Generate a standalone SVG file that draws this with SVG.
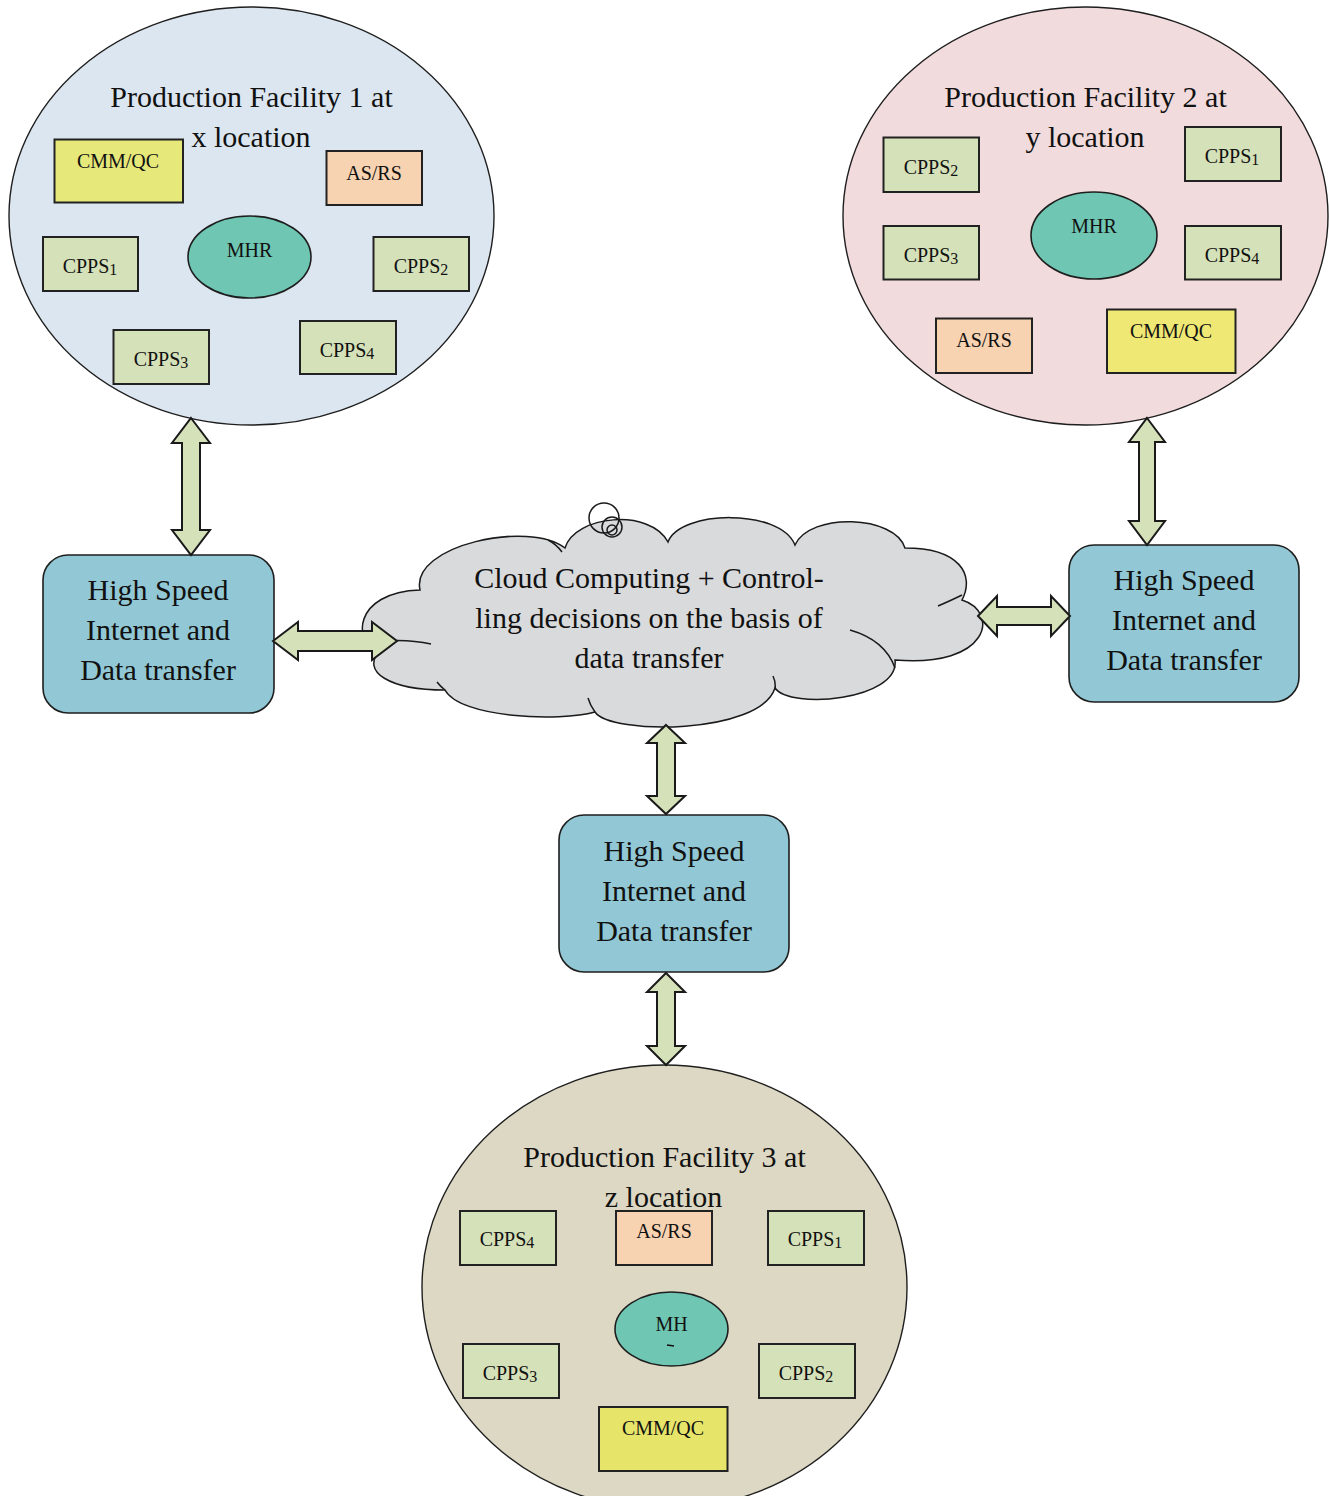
<svg xmlns="http://www.w3.org/2000/svg" width="1330" height="1496" viewBox="0 0 1330 1496">
<style>
.bg{fill:#ffffff}
.fac{stroke:#1e1e1e;stroke-width:1.4}
.f1{fill:#dce6f0}
.f2{fill:#f2dbdc}
.f3{fill:#ddd8c3}
.cpps{fill:#d5e1b9;stroke:#222;stroke-width:2}
.cmm{stroke:#222;stroke-width:2}
.asrs{fill:#f8d3b1;stroke:#222;stroke-width:2}
.mhr{fill:#6fc7b3;stroke:#1e1e1e;stroke-width:1.6}
.box{fill:#92c8d5;stroke:#1e1e1e;stroke-width:1.6}
.cloud{fill:#d9dadc;stroke:#1a1a1a;stroke-width:1.5}
.cl{fill:none;stroke:#1a1a1a;stroke-width:1.5}
.arr{fill:#d5e1b9;stroke:#1a1a1a;stroke-width:2;stroke-linejoin:miter}
.big{font-family:"Liberation Serif","Times New Roman",serif;font-size:30px;fill:#111;text-anchor:middle}
.sm{font-family:"Liberation Serif","Times New Roman",serif;font-size:20px;fill:#111;text-anchor:middle}
.sub{font-size:16px}
</style>
<rect class="bg" x="0" y="0" width="1330" height="1496"/>

<g id="facility1">
<ellipse class="fac f1" cx="251.5" cy="216" rx="242.5" ry="209"/>
<text class="big" x="251.5" y="107">Production Facility 1 at</text>
<text class="big" x="251" y="147">x location</text>
<rect class="cmm" fill="#e6e87a" x="54.5" y="139.5" width="128.5" height="63"/>
<text class="sm" x="118" y="168">CMM/QC</text>
<rect class="asrs" x="326.5" y="151" width="95.5" height="54"/>
<text class="sm" x="374" y="180">AS/RS</text>
<ellipse class="mhr" cx="249.5" cy="257" rx="61.5" ry="41"/>
<text class="sm" x="249.5" y="257">MHR</text>
<rect class="cpps" x="43" y="237" width="95" height="54"/>
<text class="sm" x="90" y="273">CPPS<tspan class="sub" dy="2">1</tspan></text>
<rect class="cpps" x="373.5" y="237" width="95.5" height="54"/>
<text class="sm" x="421" y="273">CPPS<tspan class="sub" dy="2">2</tspan></text>
<rect class="cpps" x="113.5" y="330" width="95.5" height="54"/>
<text class="sm" x="161" y="366">CPPS<tspan class="sub" dy="2">3</tspan></text>
<rect class="cpps" x="300" y="321" width="96" height="53"/>
<text class="sm" x="347" y="357">CPPS<tspan class="sub" dy="2">4</tspan></text>
</g>

<g id="facility2">
<ellipse class="fac f2" cx="1085.5" cy="216" rx="242.5" ry="209"/>
<text class="big" x="1085.5" y="107">Production Facility 2 at</text>
<text class="big" x="1085" y="147">y location</text>
<rect class="cpps" x="883.5" y="137.5" width="95.5" height="54.5"/>
<text class="sm" x="931" y="174">CPPS<tspan class="sub" dy="2">2</tspan></text>
<rect class="cpps" x="1185" y="127" width="96" height="54"/>
<text class="sm" x="1232" y="163">CPPS<tspan class="sub" dy="2">1</tspan></text>
<ellipse class="mhr" cx="1094" cy="235.5" rx="63" ry="43.5"/>
<text class="sm" x="1094" y="233">MHR</text>
<rect class="cpps" x="883.5" y="226" width="95.5" height="53.5"/>
<text class="sm" x="931" y="262">CPPS<tspan class="sub" dy="2">3</tspan></text>
<rect class="cpps" x="1185" y="226" width="96" height="53.5"/>
<text class="sm" x="1232" y="262">CPPS<tspan class="sub" dy="2">4</tspan></text>
<rect class="asrs" x="936" y="318.5" width="96" height="54.5"/>
<text class="sm" x="984" y="347">AS/RS</text>
<rect class="cmm" fill="#f0e874" x="1107" y="309.5" width="128.5" height="63.5"/>
<text class="sm" x="1171" y="338">CMM/QC</text>
</g>

<g id="facility3">
<ellipse class="fac f3" cx="664.5" cy="1287" rx="242.5" ry="222"/>
<text class="big" x="664.5" y="1167">Production Facility 3 at</text>
<text class="big" x="663.5" y="1207">z location</text>
<rect class="cpps" x="460" y="1211" width="96" height="54"/>
<text class="sm" x="507" y="1246">CPPS<tspan class="sub" dy="2">4</tspan></text>
<rect class="asrs" x="616" y="1211" width="96" height="54"/>
<text class="sm" x="664" y="1238">AS/RS</text>
<rect class="cpps" x="768" y="1211" width="96" height="54"/>
<text class="sm" x="815" y="1246">CPPS<tspan class="sub" dy="2">1</tspan></text>
<ellipse class="mhr" cx="671.5" cy="1329" rx="56.5" ry="37"/>
<text class="sm" x="671.5" y="1331">MH</text>
<path d="M 667,1345 L 674,1346" stroke="#111" stroke-width="1.6" fill="none"/>
<rect class="cpps" x="463" y="1344" width="96" height="54"/>
<text class="sm" x="510" y="1380">CPPS<tspan class="sub" dy="2">3</tspan></text>
<rect class="cpps" x="759" y="1344" width="96" height="54"/>
<text class="sm" x="806" y="1380">CPPS<tspan class="sub" dy="2">2</tspan></text>
<rect class="cmm" fill="#e6e56a" x="599" y="1407" width="128.5" height="64"/>
<text class="sm" x="663" y="1435">CMM/QC</text>
</g>

<g id="cloud">
<path class="cloud" d="M 380,650 C 352,645 352,592 420,590 C 410,545 530,520 565,548 C 575,515 650,508 668,542 C 680,510 780,508 795,545 C 810,512 895,515 905,548 C 960,548 975,575 962,600 C 1000,612 990,668 895,660 C 900,700 790,710 775,688 C 760,735 610,735 595,712 C 560,722 460,718 445,690 C 390,690 360,672 380,650 Z"/>
<path class="cl" d="M 373,642 Q 405,638 431,644 M 548,540 Q 556,544 562,552 M 962,595 Q 952,600 938,606 M 850,630 Q 885,640 895,668 M 775,690 Q 776,682 773,676 M 595,712 Q 590,705 588,698 M 445,690 Q 440,686 437,682"/>
<circle class="cl" cx="604" cy="518" r="15"/>
<circle class="cl" cx="612" cy="527" r="10"/>
<circle class="cl" cx="612" cy="530" r="5"/>
<text class="big" x="649" y="588">Cloud Computing + Control-</text>
<text class="big" x="649" y="628">ling decisions on the basis of</text>
<text class="big" x="649" y="668">data transfer</text>
</g>

<g id="link1">
<rect class="box" x="43" y="555" width="231" height="158" rx="25"/>
<text class="big" x="158" y="600">High Speed</text>
<text class="big" x="158" y="640">Internet and</text>
<text class="big" x="158" y="680">Data transfer</text>
</g>

<g id="link2">
<rect class="box" x="1069" y="545" width="230" height="157" rx="25"/>
<text class="big" x="1184" y="590">High Speed</text>
<text class="big" x="1184" y="630">Internet and</text>
<text class="big" x="1184" y="670">Data transfer</text>
</g>

<g id="link3">
<rect class="box" x="559" y="815" width="230" height="157" rx="25"/>
<text class="big" x="674" y="861">High Speed</text>
<text class="big" x="674" y="901">Internet and</text>
<text class="big" x="674" y="941">Data transfer</text>
</g>

<g id="connectors">
<polygon class="arr" points="191,418 210,443 200,443 200,530 210,530 191,555 172,530 182,530 182,443 172,443"/>
<polygon class="arr" points="1147,418 1165,442 1155,442 1155,521 1165,521 1147,545 1129,521 1139,521 1139,442 1129,442"/>
<polygon class="arr" points="666,725 685,743 675,743 675,796 685,796 666,814 647,796 657,796 657,743 647,743"/>
<polygon class="arr" points="666,973 685,992 675,992 675,1046 685,1046 666,1065 647,1046 657,1046 657,992 647,992"/>
<polygon class="arr" points="273,641 298,622 298,631 372,631 372,622 397,641 372,660 372,651 298,651 298,660"/>
<polygon class="arr" points="978,616 997,596 997,607 1051,607 1051,596 1070,616 1051,636 1051,625 997,625 997,636"/>
</g>
</svg>
